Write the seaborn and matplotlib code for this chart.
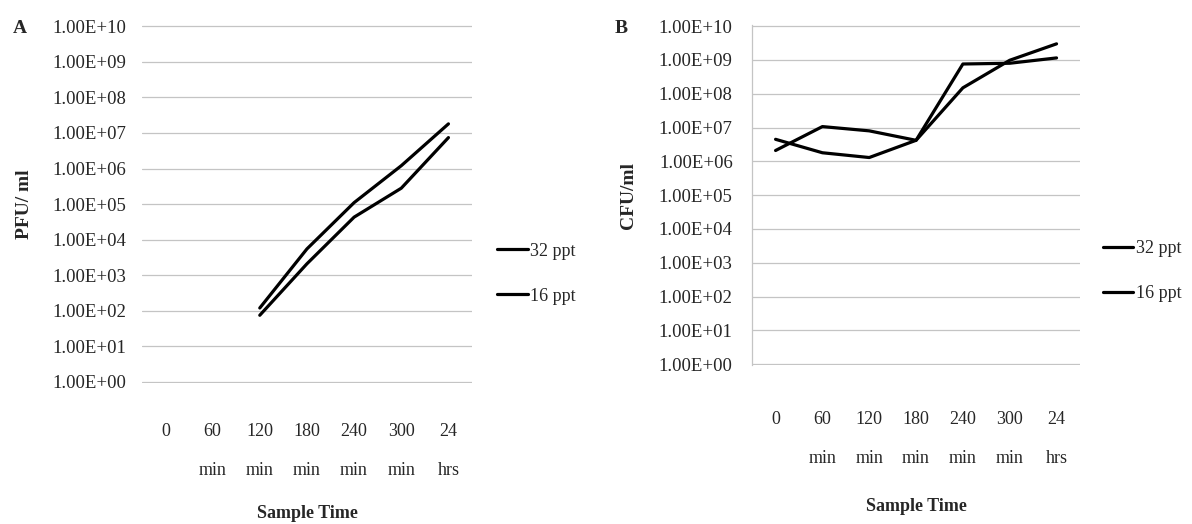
import numpy as np
import pandas as pd
import matplotlib
matplotlib.use("Agg")
import matplotlib.pyplot as plt
import seaborn as sns

# sampling times (x categories)
time_labels = ["0", "60\nmin", "120\nmin", "180\nmin", "240\nmin", "300\nmin", "24\nhrs"]
series_names = ["32 ppt", "16 ppt"]

# panel A - phage counts (PFU/ml), nothing detected before 120 min
pfu_32 = [np.nan, np.nan, 1.2e2, 5.5e3, 1.1e5, 1.2e6, 1.8e7]
pfu_16 = [np.nan, np.nan, 7.5e1, 2.1e3, 4.3e4, 2.8e5, 7.4e6]

# panel B - bacterial counts (CFU/ml)
cfu_32 = [2.1e6, 1.07e7, 8.0e6, 4.2e6, 7.6e8, 8.0e8, 1.15e9]
cfu_16 = [4.5e6, 1.8e6, 1.3e6, 4.2e6, 1.5e8, 9.8e8, 3.0e9]

decades = list(range(0, 11))
ytick_labels = [f"1.00E+{k:02d}" for k in decades]


def long_df(v32, v16):
    pos = np.arange(len(time_labels))
    df = pd.concat([
        pd.DataFrame({"pos": pos, "value": v32, "series": series_names[0]}),
        pd.DataFrame({"pos": pos, "value": v16, "series": series_names[1]}),
    ])
    return df.dropna()


sns.set_style("white")
plt.rcParams["font.family"] = ["Liberation Serif", "DejaVu Serif"]

fig = plt.figure(figsize=(11.92, 5.24), dpi=100)

panels = [
    # rect, data, letter, ylabel, ytick pad, xtick pad, legend anchor, show spine
    ([0.119, 0.269, 0.277, 0.683], long_df(pfu_32, pfu_16), "A", "PFU/ ml", 11, 29, (0.417, 0.478), False),
    ([0.631, 0.303, 0.275, 0.649], long_df(cfu_32, cfu_16), "B", "CFU/ml", 14, 33, (0.925, 0.482), True),
]

for rect, df, letter, ylab, ypad, xpad, leg_xy, spine in panels:
    ax = fig.add_axes(rect)
    sns.lineplot(data=df, x="pos", y="value", hue="series", hue_order=series_names,
                 palette={"32 ppt": "black", "16 ppt": "black"},
                 linewidth=2.3, sort=False, estimator=None, ax=ax)
    ax.set_yscale("log")
    ax.set_ylim(10 ** -0.03, 10 ** 10.03)
    ax.set_xlim(-0.5, len(time_labels) - 0.5)
    ax.set_yticks([10.0 ** k for k in decades])
    ax.set_yticklabels(ytick_labels)
    ax.yaxis.set_minor_locator(matplotlib.ticker.NullLocator())
    ax.set_xticks(np.arange(len(time_labels)))
    ax.set_xticklabels(time_labels, linespacing=2.7)
    ax.tick_params(axis="y", length=0, pad=ypad, labelsize=13.5)
    ax.tick_params(axis="x", length=0, pad=xpad, labelsize=13)

    ax.yaxis.grid(True, color="#c4c4c4", linewidth=0.9)
    ax.xaxis.grid(False)
    for s in ["top", "right", "bottom"]:
        ax.spines[s].set_visible(False)
    if spine:
        ax.spines["left"].set_color("#c4c4c4")
        ax.spines["left"].set_linewidth(0.9)
    else:
        ax.spines["left"].set_visible(False)

    ax.set_xlabel("Sample Time", fontsize=13, fontweight="bold")
    ax.xaxis.set_label_coords(0.5, -0.34 if letter == "A" else -0.39)
    ax.set_ylabel(ylab, fontsize=14, fontweight="bold")
    ax.yaxis.set_label_coords(-0.33 if letter == "A" else -0.35, 0.5)

    ax.text(-0.39 if letter == "A" else -0.42, 0.99, letter, transform=ax.transAxes,
            fontsize=14, fontweight="bold", va="center", ha="left")

    ax.legend(loc="center left", bbox_to_anchor=leg_xy, bbox_transform=fig.transFigure,
              frameon=False, fontsize=13, handlelength=1.7, handletextpad=0.15,
              labelspacing=1.55, borderpad=0, borderaxespad=0, title=None)

plt.savefig("out.png", dpi=100)
